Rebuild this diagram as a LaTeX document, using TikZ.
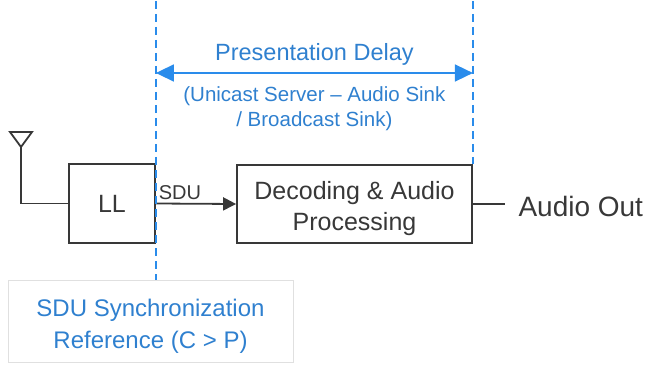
\documentclass[tikz,border=0pt]{standalone}
\usepackage{fontspec}
\setmainfont{Liberation Sans}
\usepackage{xcolor}
\usetikzlibrary{arrows.meta, positioning, calc}

\definecolor{refblue}{HTML}{2F80CF}
\definecolor{guideblue}{HTML}{2A8CEB}
\definecolor{inkgray}{HTML}{383838}

\begin{document}
\begin{tikzpicture}[
  x=1pt, y=-1pt,
  font=\fontsize{25}{31}\selectfont,
  box/.style={rectangle, draw=inkgray, line width=1.8pt, inner sep=0pt,
              align=center, text=inkgray},
  boxtext/.style={inner sep=0pt, align=center, text=inkgray},
  guide/.style={draw=guideblue, line width=2.4pt, dash pattern=on 8pt off 5pt},
  arr/.style={-{Triangle[length=13pt, width=13pt]}, line width=1.8pt, draw=inkgray},
  span/.style={{Triangle[length=18pt, width=17pt]}-{Triangle[length=18pt, width=17pt]},
               line width=1.6pt, draw=guideblue, fill=guideblue},
  lbl/.style={text=refblue, inner sep=0pt, align=center}
]
\useasboundingbox (0,0) rectangle (645,366);

% --- Nodes ---
\node[box, minimum width=86pt, minimum height=79pt] (ll) at (112,203.5) {LL};
\node[box, minimum width=235pt, minimum height=78pt] (dec) at (354.5,204) {};
\node[boxtext] at ([yshift=-5pt]dec.center) {Decoding \& Audio\\Processing};
\node[box, draw=black!12, line width=0.8pt, minimum width=285pt, minimum height=82pt]
  (sync) at (150.5,321) {};
\node[lbl, font=\fontsize{24}{32}\selectfont] at ([yshift=-5pt]sync.center)
  {SDU Synchronization\\Reference (C > P)};
\node[anchor=west, text=inkgray, font=\fontsize{28}{32}\selectfont] (out) at (515,206) {Audio Out};

% antenna
\coordinate (ant) at (21,147);
\draw[inkgray, line width=1.8pt, line join=miter] (10,132) -- (32,132) -- (ant) -- cycle;
\draw[inkgray, line width=1.8pt] (ant) |- (ll.west);

% SDU
\draw[arr] (ll.east) -- node[above, pos=0.3, text=inkgray, inner sep=3pt,
  font=\fontsize{20}{24}\selectfont] {SDU} (dec.west);

% audio out
\draw[inkgray, line width=1.8pt] (dec.east) -- (dec.east -| 505,0);

% --- Presentation delay ---
\coordinate (top1) at (ll.east |- 0,1);
\coordinate (top2) at (dec.east |- 0,1);
\draw[guide] (top1) -- (ll.east |- sync.north);
\draw[guide] (top2) -- (dec.north east);
\coordinate (pd1) at (ll.east |- 0,73);
\coordinate (pd2) at (dec.east |- 0,73);
\draw[span] (pd1) -- (pd2);
\node[lbl, font=\fontsize{23.5}{28}\selectfont] at ($(pd1)!0.5!(pd2)+(0,-19)$) {Presentation Delay};
\node[lbl, below=13pt, font=\fontsize{20.5}{25}\selectfont] at ($(pd1)!0.5!(pd2)$)
  {(Unicast Server -- Audio Sink\\/ Broadcast Sink)};

\end{tikzpicture}
\end{document}
